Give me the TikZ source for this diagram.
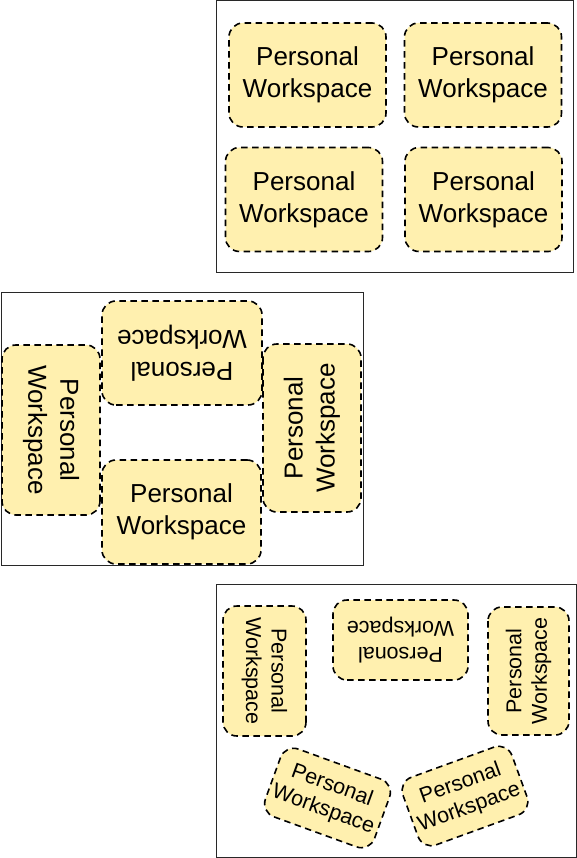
\documentclass[tikz,border=0pt]{standalone}
\usepackage{fontspec}
\setmainfont{Liberation Sans}
\definecolor{wsfill}{RGB}{255,240,175}
\definecolor{panelline}{RGB}{40,40,40}
\begin{document}
\begin{tikzpicture}[x=1pt,y=-1pt,
  ws/.style={draw=black, line width=1.6pt, dash pattern=on 6.5pt off 4.5pt,
    fill=wsfill, rounded corners=14pt, align=center, inner sep=0pt,
    font=\fontsize{26}{32}\selectfont},
  wsbig/.style={ws, minimum width=157pt, minimum height=104pt},
  wssmall/.style={ws, font=\fontsize{21.5}{25.5}\selectfont},
  panel/.style={draw=panelline, line width=1pt}]
\useasboundingbox (0,0) rectangle (577,858);
% top panel
\draw[panel] (216,1) rectangle (573,273);
\node[wsbig] (a1) at (307.5,75) {Personal\\Workspace};
\node[wsbig] (a2) at (483,75) {Personal\\Workspace};
\node[wsbig] (a3) at (304,199.5) {Personal\\Workspace};
\node[wsbig] (a4) at (483.5,199.5) {Personal\\Workspace};
% middle panel
\draw[panel] (1.5,292) rectangle (363.5,565);
\node[ws, minimum width=160pt, minimum height=104pt, rotate=180] (b1) at (182,353) {Personal\\Workspace};
\node[ws, minimum width=170pt, minimum height=98pt, rotate=-90] (b2) at (51,430) {Personal\\Workspace};
\node[ws, minimum width=168pt, minimum height=98pt, rotate=90] (b3) at (312,428) {Personal\\Workspace};
\node[ws, minimum width=159pt, minimum height=104pt] (b4) at (181.5,512) {Personal\\Workspace};
% bottom panel
\draw[panel] (216,584) rectangle (576,857);
\node[wssmall, minimum width=130pt, minimum height=83pt, rotate=-90] (c1) at (264.5,671) {Personal\\Workspace};
\node[wssmall, minimum width=135pt, minimum height=80pt, rotate=180] (c2) at (400.5,640) {Personal\\Workspace};
\node[wssmall, minimum width=128pt, minimum height=81pt, rotate=90] (c3) at (528.5,671) {Personal\\Workspace};
\node[wssmall, minimum width=116pt, minimum height=72pt, rotate=-20] (c4) at (327.5,798) {Personal\\Workspace};
\node[wssmall, minimum width=116pt, minimum height=72pt, rotate=20] (c5) at (465,796) {Personal\\Workspace};
\end{tikzpicture}
\end{document}
